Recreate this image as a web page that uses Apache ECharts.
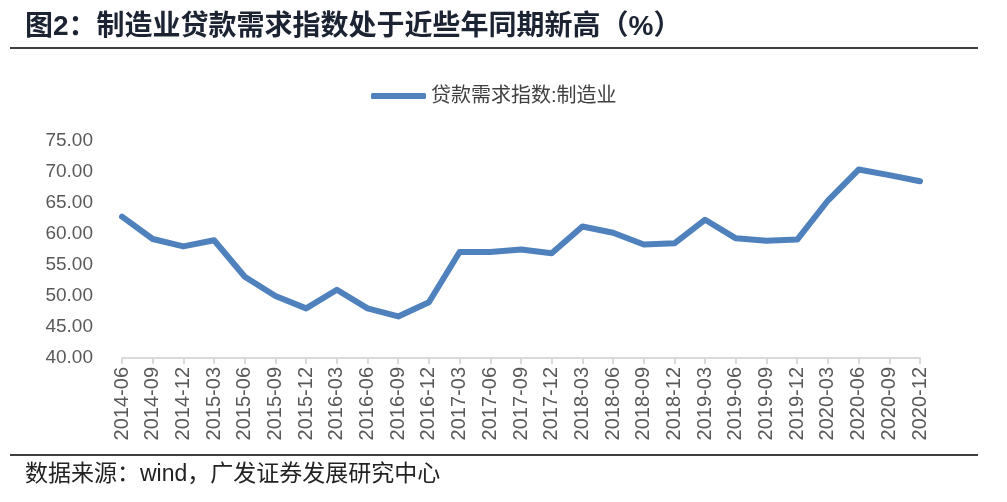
<!DOCTYPE html>
<html>
<head>
<meta charset="utf-8">
<script src="https://cdn.jsdelivr.net/npm/echarts@6/dist/echarts.min.js"></script>
<style>html,body{margin:0;padding:0;background:#fff;}#c{width:1007px;height:502px;}</style>
</head>
<body>
<div id="c"></div>
<script>
var categories = ["2014-06","2014-09","2014-12","2015-03","2015-06","2015-09","2015-12","2016-03","2016-06","2016-09","2016-12","2017-03","2017-06","2017-09","2017-12","2018-03","2018-06","2018-09","2018-12","2019-03","2019-06","2019-09","2019-12","2020-03","2020-06","2020-09","2020-12"];
var values = [62.8,59.2,58.0,59.0,53.1,50.0,48.0,51.0,48.0,46.7,49.0,57.1,57.1,57.5,56.9,61.2,60.2,58.3,58.5,62.3,59.3,58.9,59.1,65.4,70.4,69.5,68.5];
var seriesName = "贷款需求指数:制造业";
var titleText = "图2：制造业贷款需求指数处于近些年同期新高（%）";
var sourceText = "数据来源：wind，广发证券发展研究中心";

var chart = echarts.init(document.getElementById('c'), null, {renderer:'canvas'});
var cjk = '"Liberation Sans", "Noto Sans CJK SC", sans-serif';
chart.setOption({
  animation: false,
  backgroundColor: '#fff',
  title: {
    text: titleText, left: 20, top: 8,
    textStyle: {fontFamily: cjk, fontSize: 28, fontWeight: 'bold', color: '#1c2433'}
  },
  graphic: [
    {type:'line', shape:{x1:10,y1:48,x2:978,y2:48}, style:{stroke:'#000', lineWidth:1.5}},
    {type:'line', shape:{x1:10,y1:455,x2:978,y2:455}, style:{stroke:'#000', lineWidth:1.5}},
    {type:'text', left: 25, top: 463, style:{text: sourceText, font: '23px ' + cjk, fill:'#222'}}
  ],
  legend: {
    left: 366, top: 81,
    data: [seriesName],
    icon: 'roundRect',
    itemWidth: 55, itemHeight: 6, itemGap: 5,
    textStyle: {fontFamily: cjk, fontSize: 20, color: '#404040'}
  },
  grid: {left: 122, right: 87, top: 141, bottom: 144, containLabel: false},
  xAxis: {
    type: 'category', data: categories, boundaryGap: false,
    axisLine: {lineStyle: {color: '#d9d9d9', width: 2}},
    axisTick: {show: true, length: 6, lineStyle: {color: '#d9d9d9', width: 2}},
    axisLabel: {rotate: 90, interval: 0, color: '#595959', fontSize: 20, fontFamily: '"Liberation Sans", Arial, sans-serif', margin: 9}
  },
  yAxis: {
    type: 'value', min: 40, max: 75, interval: 5,
    axisLine: {show: false}, axisTick: {show: false},
    splitLine: {show: false},
    axisLabel: {color: '#595959', fontSize: 19, fontFamily: '"Liberation Sans", Arial, sans-serif', margin: 29,
      formatter: function(v){ return v.toFixed(2); }}
  },
  series: [{
    name: seriesName, type: 'line', data: values,
    symbol: 'none', smooth: false,
    lineStyle: {color: '#4f81bd', width: 6, cap: 'round', join: 'round'},
    itemStyle: {color: '#4f81bd'}
  }]
});
</script>
</body>
</html>
